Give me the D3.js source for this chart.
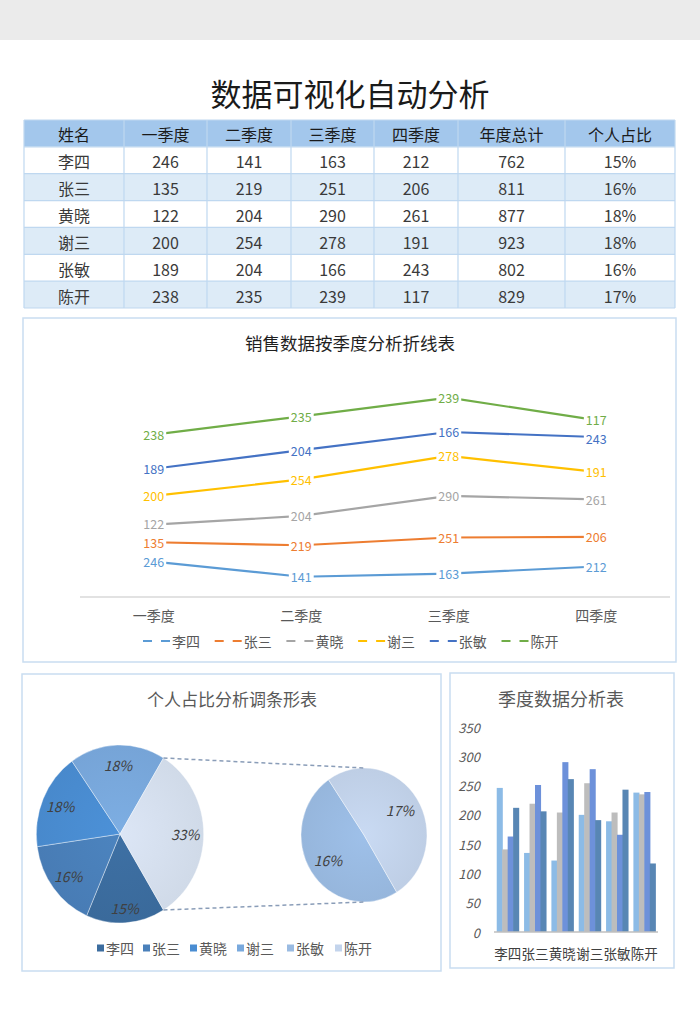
<!DOCTYPE html>
<html>
<head>
<meta charset="utf-8">
<script src="https://cdn.jsdelivr.net/npm/d3@7"></script>
<style>
  body { margin: 0; background: #ffffff; }
  svg { display: block; }
  text { font-family: "Noto Sans CJK SC", "Noto Sans", sans-serif; }
</style>
</head>
<body>
<script>
// ---------------- DATA ----------------
const names = ["李四", "张三", "黄晓", "谢三", "张敏", "陈开"];
const quarters = ["一季度", "二季度", "三季度", "四季度"];
const q1 = [246, 135, 122, 200, 189, 238];
const q2 = [141, 219, 204, 254, 204, 235];
const q3 = [163, 251, 290, 278, 166, 239];
const q4 = [212, 206, 261, 191, 243, 117];
const totals = [762, 811, 877, 923, 802, 829];
const sharePct = [15, 16, 18, 18, 16, 17];
const headers = ["姓名", "一季度", "二季度", "三季度", "四季度", "年度总计", "个人占比"];
const barTicks = [0, 50, 100, 150, 200, 250, 300, 350];
const lineMax = 1600;
const barMax = 350;

// ---------------- STYLE ----------------
const seriesColors = ["#5B9BD5", "#ED7D31", "#A5A5A5", "#FFC000", "#4472C4", "#70AD47"];
const pieColors = ["#3C6D9F", "#4A80BA", "#4A8DD2", "#79A9DD", "#9ABBE2", "#C3D4EC"];
const otherColor = "#D6E0EF";
const barColors = ["#8CBBE6", "#BDBDBD", "#6D91DA", "#5886B4"];
const panelStroke = "#C9DDF1";
const narrow = '"Liberation Sans Narrow", "Roboto", "Noto Sans", sans-serif';

const svg = d3.select("body").append("svg").attr("width", 700).attr("height", 1030);
const defs = svg.append("defs");

// background band
svg.append("rect").attr("x", 0).attr("y", 0).attr("width", 700).attr("height", 40).attr("fill", "#EBEBEB");

// main title
svg.append("text").attr("x", 350).attr("y", 92).attr("text-anchor", "middle")
  .attr("dominant-baseline", "central").attr("font-size", 31).attr("fill", "#1a1a1a")
  .text("数据可视化自动分析");

// ---------------- TABLE ----------------
const colEdges = [24, 124, 207, 291, 374, 458, 565, 675];
const tableTop = 120, tableBottom = 308;
const rowH = (tableBottom - tableTop) / (names.length + 1);
const tableRows = [headers].concat(names.map((n, i) => [n, q1[i], q2[i], q3[i], q4[i], totals[i], sharePct[i] + "%"]));
const tg = svg.append("g");
tableRows.forEach((row, r) => {
  const y0 = tableTop + r * rowH;
  const fill = r === 0 ? "#A3C7EC" : (r % 2 === 0 ? "#DDEBF7" : "#FFFFFF");
  tg.append("rect").attr("x", colEdges[0]).attr("y", y0).attr("width", colEdges[colEdges.length - 1] - colEdges[0])
    .attr("height", rowH).attr("fill", fill);
  row.forEach((cell, c) => {
    tg.append("text").attr("x", (colEdges[c] + colEdges[c + 1]) / 2).attr("y", y0 + rowH / 2 + 1)
      .attr("text-anchor", "middle").attr("dominant-baseline", "central")
      .attr("font-size", 16).attr("fill", r === 0 ? "#1a1a1a" : "#3a3a3a").text(cell);
  });
});
for (let r = 0; r <= tableRows.length; r++) {
  const y = tableTop + r * rowH;
  tg.append("line").attr("x1", colEdges[0]).attr("x2", colEdges[colEdges.length - 1]).attr("y1", y).attr("y2", y)
    .attr("stroke", "#BFD8F0").attr("stroke-width", 1.2);
}
colEdges.forEach(x => {
  tg.append("line").attr("x1", x).attr("x2", x).attr("y1", tableTop).attr("y2", tableBottom)
    .attr("stroke", "#BFD8F0").attr("stroke-width", 1.2);
});

// ---------------- PANELS ----------------
function panel(x, y, w, h) {
  svg.append("rect").attr("x", x).attr("y", y).attr("width", w).attr("height", h)
    .attr("fill", "none").attr("stroke", panelStroke).attr("stroke-width", 1.5);
}
panel(23, 318, 653, 344);
panel(22, 674, 419, 297);
panel(450, 673, 224, 295);

// ---------------- STACKED LINE CHART ----------------
svg.append("text").attr("x", 350).attr("y", 342).attr("text-anchor", "middle").attr("dominant-baseline", "central")
  .attr("font-size", 17.5).attr("fill", "#1f1f1f").text("销售数据按季度分析折线表");

const qData = [q1, q2, q3, q4];
const rows = quarters.map((q, j) => {
  const o = { quarter: q };
  names.forEach((n, i) => { o[n] = qData[j][i]; });
  return o;
});
const stacked = d3.stack().keys(names)(rows);
const xL = d3.scalePoint().domain(quarters).range([80, 670]).padding(0.5);
const yL = d3.scaleLinear().domain([0, lineMax]).range([597, 367]);

svg.append("line").attr("x1", 80).attr("x2", 670).attr("y1", yL(0)).attr("y2", yL(0))
  .attr("stroke", "#D9D9D9").attr("stroke-width", 1.5);
svg.append("g").selectAll("text").data(quarters).join("text")
  .attr("x", d => xL(d)).attr("y", 615).attr("text-anchor", "middle").attr("dominant-baseline", "central")
  .attr("font-size", 14).attr("fill", "#595959").text(d => d);

const lineGen = d3.line().x(d => xL(d.data.quarter)).y(d => yL(d[1]));
const lg = svg.append("g");
stacked.forEach((s, i) => {
  lg.append("path").attr("d", lineGen(s)).attr("fill", "none")
    .attr("stroke", seriesColors[i]).attr("stroke-width", 2.2).attr("stroke-linejoin", "round");
});
// label positions with a small de-collision nudge per quarter
const minGap = 19;
quarters.forEach((q, j) => {
  const labs = stacked.map((s, i) => ({ i, val: qData[j][i], cx: xL(q), cy: yL(s[j][1]) }))
    .sort((a, b) => a.cy - b.cy);
  for (let k = 1; k < labs.length; k++) {
    const gap = labs[k].cy - labs[k - 1].cy;
    if (gap < minGap) {
      const push = (minGap - gap) / 2;
      labs[k - 1].cy -= push;
      labs[k].cy += push;
    }
  }
  labs.forEach(l => {
    const t = lg.append("text").attr("x", l.cx).attr("y", l.cy).attr("text-anchor", "middle")
      .attr("dominant-baseline", "central").attr("font-family", narrow).attr("font-size", 12.5)
      .attr("fill", seriesColors[l.i]).text(l.val);
    const bb = t.node().getBBox();
    lg.insert("rect", () => t.node()).attr("x", bb.x - 2).attr("y", l.cy - 6.5).attr("width", bb.width + 4)
      .attr("height", 13).attr("fill", "#ffffff");
  });
});

// legend
const leg = svg.append("g");
names.forEach((n, i) => {
  const gx = 143 + i * 71.7, gy = 641;
  leg.append("line").attr("x1", gx).attr("x2", gx + 27).attr("y1", gy).attr("y2", gy)
    .attr("stroke", seriesColors[i]).attr("stroke-width", 2).attr("stroke-dasharray", "9,9");
  leg.append("text").attr("x", gx + 29).attr("y", gy).attr("dominant-baseline", "central")
    .attr("font-size", 14).attr("fill", "#595959").text(n);
});

// ---------------- PIE OF PIE ----------------
svg.append("text").attr("x", 232).attr("y", 698).attr("text-anchor", "middle").attr("dominant-baseline", "central")
  .attr("font-size", 17).attr("fill", "#595959").text("个人占比分析调条形表");

const sx = 0.94;
const main = { cx: 120, cy: 834, r: 89 };
const sec = { cx: 364, cy: 835, r: 67 };
const mainVals = totals.slice(0, 4).concat([totals[4] + totals[5]]);
const mainLabels = sharePct.slice(0, 4).concat([sharePct[4] + sharePct[5]]);
const mainCols = pieColors.slice(0, 4).concat([otherColor]);
const totalAll = d3.sum(totals);
const otherAngle = (mainVals[4] / totalAll) * 2 * Math.PI;
const start = Math.PI / 2 + otherAngle / 2;

function grad(id, col, r) {
  const g = defs.append("radialGradient").attr("id", id).attr("gradientUnits", "userSpaceOnUse")
    .attr("cx", 0).attr("cy", 0).attr("r", r);
  g.append("stop").attr("offset", "0%").attr("stop-color", d3.color(col).brighter(0.08));
  g.append("stop").attr("offset", "100%").attr("stop-color", d3.color(col).darker(0.08));
}

const mainArcs = d3.pie().sort(null).value(d => d).startAngle(start).endAngle(start + 2 * Math.PI)(mainVals);
const arcMain = d3.arc().innerRadius(0).outerRadius(main.r);
const mg = svg.append("g").attr("transform", `translate(${main.cx},${main.cy}) scale(${sx},1)`);
mainArcs.forEach((a, i) => {
  grad("gm" + i, mainCols[i], main.r);
  mg.append("path").attr("d", arcMain(a)).attr("fill", `url(#gm${i})`)
    .attr("stroke", "#ffffff").attr("stroke-opacity", 0.5).attr("stroke-width", 0.8);
});

const secVals = totals.slice(4);
const secArcs = d3.pie().sort(null).value(d => d).startAngle(start).endAngle(start + 2 * Math.PI)(secVals);
const arcSec = d3.arc().innerRadius(0).outerRadius(sec.r);
const sg = svg.append("g").attr("transform", `translate(${sec.cx},${sec.cy}) scale(${sx},1)`);
secArcs.forEach((a, i) => {
  grad("gs" + i, pieColors[4 + i], sec.r);
  sg.append("path").attr("d", arcSec(a)).attr("fill", `url(#gs${i})`)
    .attr("stroke", "#ffffff").attr("stroke-opacity", 0.5).attr("stroke-width", 0.8);
});

// connectors
const oA = mainArcs[4];
[[oA.startAngle, -1], [oA.endAngle, 1]].forEach(([ang, s]) => {
  const x1 = main.cx + Math.sin(ang) * main.r * sx, y1 = main.cy - Math.cos(ang) * main.r;
  svg.append("line").attr("x1", x1).attr("y1", y1).attr("x2", sec.cx).attr("y2", sec.cy + s * sec.r)
    .attr("stroke", "#8A9DB8").attr("stroke-width", 1.5).attr("stroke-dasharray", "4,3");
});

// pie labels
function pieLabel(cx, cy, r, a, k, txt) {
  const m = (a.startAngle + a.endAngle) / 2;
  svg.append("text").attr("x", cx + Math.sin(m) * r * sx * k).attr("y", cy - Math.cos(m) * r * k)
    .attr("text-anchor", "middle").attr("dominant-baseline", "central")
    .attr("font-family", narrow).attr("font-style", "italic").attr("font-size", 14)
    .attr("fill", "#404040").text(txt);
}
mainArcs.forEach((a, i) => pieLabel(main.cx, main.cy, main.r, a, i === 0 ? 0.83 : 0.78, mainLabels[i] + "%"));
secArcs.forEach((a, i) => pieLabel(sec.cx, sec.cy, sec.r, a, 0.68, sharePct[4 + i] + "%"));

// pie legend
const legX = [97, 143, 190, 237, 287, 335];
names.forEach((n, i) => {
  svg.append("rect").attr("x", legX[i]).attr("y", 944.5).attr("width", 7).attr("height", 7).attr("fill", pieColors[i]);
  svg.append("text").attr("x", legX[i] + 9).attr("y", 948).attr("dominant-baseline", "central")
    .attr("font-size", 14).attr("fill", "#595959").text(n);
});

// ---------------- BAR CHART ----------------
svg.append("text").attr("x", 561).attr("y", 698).attr("text-anchor", "middle").attr("dominant-baseline", "central")
  .attr("font-size", 18).attr("fill", "#595959").text("季度数据分析表");

const x0 = d3.scaleBand().domain(names).range([494, 658]).paddingInner(0.2).paddingOuter(0.1);
const x1 = d3.scaleBand().domain(quarters).range([0, x0.bandwidth()]).padding(0);
const yB = d3.scaleLinear().domain([0, barMax]).range([932, 727]);

svg.append("g").selectAll("text").data(barTicks).join("text")
  .attr("x", 480).attr("y", d => yB(d)).attr("text-anchor", "end").attr("dominant-baseline", "central")
  .attr("font-family", narrow).attr("font-style", "italic").attr("font-size", 13).attr("fill", "#595959")
  .text(d => d);

const bg = svg.append("g");
names.forEach((n, i) => {
  quarters.forEach((q, j) => {
    const v = qData[j][i];
    bg.append("rect").attr("x", x0(n) + x1(q)).attr("y", yB(v)).attr("width", x1.bandwidth() + 0.6)
      .attr("height", yB(0) - yB(v)).attr("fill", barColors[j]);
  });
});
svg.append("line").attr("x1", 494).attr("x2", 658).attr("y1", yB(0)).attr("y2", yB(0))
  .attr("stroke", "#BFBFBF").attr("stroke-width", 1.5);
svg.append("g").selectAll("text").data(names).join("text")
  .attr("x", d => x0(d) + x0.bandwidth() / 2).attr("y", 953).attr("text-anchor", "middle")
  .attr("dominant-baseline", "central").attr("font-size", 13.5).attr("fill", "#404040").text(d => d);
</script>
</body>
</html>
